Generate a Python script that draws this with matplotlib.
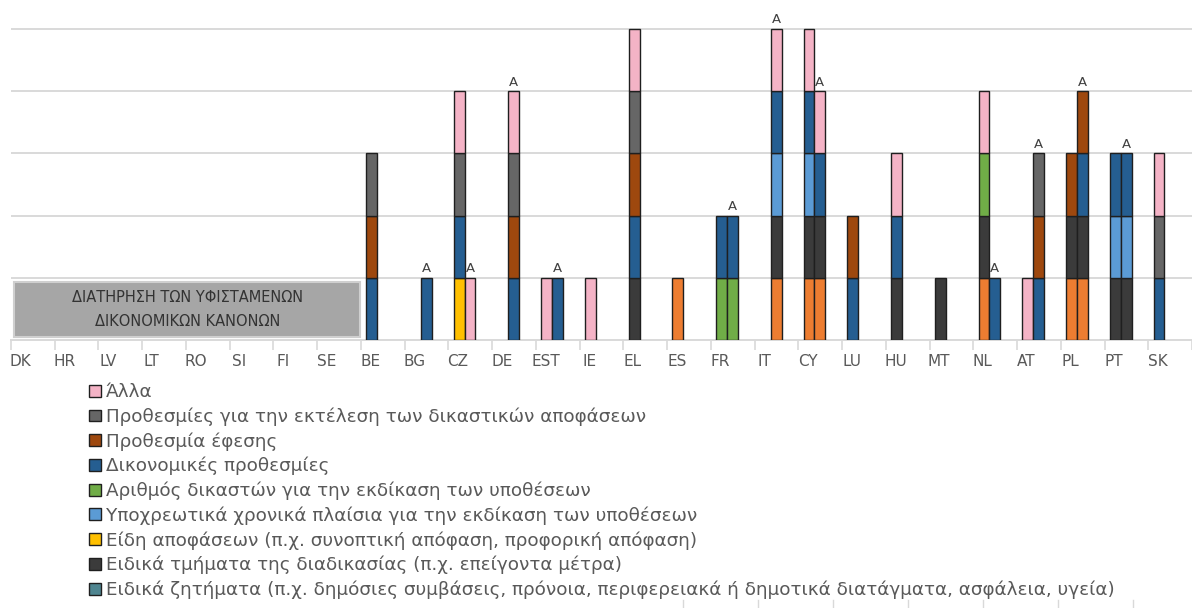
import numpy as np
import matplotlib
matplotlib.use("Agg")
import matplotlib.pyplot as plt
from matplotlib.patches import Patch, Rectangle
from matplotlib.lines import Line2D

plt.rcParams['font.family'] = ['DejaVu Sans']

# Länder (x-Achse)
countries = ["DK", "HR", "LV", "LT", "RO", "SI", "FI", "SE", "BE", "BG", "CZ", "DE", "EST",
             "IE", "EL", "ES", "FR", "IT", "CY", "LU", "HU", "MT", "NL", "AT", "PL", "PT", "SK"]

# Kategorien, von unten nach oben gestapelt
labels = [
    "Ειδικά ζητήματα (π.χ. δημόσιες συμβάσεις, πρόνοια, περιφερειακά ή δημοτικά διατάγματα, ασφάλεια, υγεία)",
    "Ειδικά τμήματα της διαδικασίας (π.χ. επείγοντα μέτρα)",
    "Είδη αποφάσεων (π.χ. συνοπτική απόφαση, προφορική απόφαση)",
    "Υποχρεωτικά χρονικά πλαίσια για την εκδίκαση των υποθέσεων",
    "Αριθμός δικαστών για την εκδίκαση των υποθέσεων",
    "Δικονομικές προθεσμίες",
    "Προθεσμία έφεσης",
    "Προθεσμίες για την εκτέλεση των δικαστικών αποφάσεων",
    "Άλλα",
]
bar_colors = ["#ED7D31", "#3B3B3B", "#FFC000", "#5B9BD5", "#70AD47",
              "#255E91", "#9E480E", "#666666", "#F4B3C6"]
legend_colors = ["#4F8590", "#3B3B3B", "#FFC000", "#5B9BD5", "#70AD47",
                 "#255E91", "#9E480E", "#666666", "#F4B3C6"]

# Erste Säule je Land        DK HR LV LT RO SI FI SE BE BG CZ DE ES IE EL ES FR IT CY LU HU MT NL AT PL PT SK
special_issues_1     = [0, 0, 0, 0, 0, 0, 0, 0, 0, 0, 0, 0, 0, 0, 0, 1, 0, 0, 1, 0, 0, 0, 1, 0, 1, 0, 0]
special_parts_1      = [0, 0, 0, 0, 0, 0, 0, 0, 0, 0, 0, 0, 0, 0, 1, 0, 0, 0, 1, 0, 1, 1, 1, 0, 1, 1, 0]
decision_types_1     = [0, 0, 0, 0, 0, 0, 0, 0, 0, 0, 1, 0, 0, 0, 0, 0, 0, 0, 0, 0, 0, 0, 0, 0, 0, 0, 0]
time_frames_1        = [0, 0, 0, 0, 0, 0, 0, 0, 0, 0, 0, 0, 0, 0, 0, 0, 0, 0, 1, 0, 0, 0, 0, 0, 0, 1, 0]
judges_1             = [0, 0, 0, 0, 0, 0, 0, 0, 0, 0, 0, 0, 0, 0, 0, 0, 1, 0, 0, 0, 0, 0, 1, 0, 0, 0, 0]
procedural_1         = [0, 0, 0, 0, 0, 0, 0, 0, 1, 0, 1, 0, 0, 0, 1, 0, 1, 0, 1, 1, 1, 0, 0, 0, 0, 1, 1]
appeal_1             = [0, 0, 0, 0, 0, 0, 0, 0, 1, 0, 0, 0, 0, 0, 1, 0, 0, 0, 0, 1, 0, 0, 0, 0, 1, 0, 0]
enforcement_1        = [0, 0, 0, 0, 0, 0, 0, 0, 1, 0, 1, 0, 0, 0, 1, 0, 0, 0, 0, 0, 0, 0, 0, 0, 0, 0, 1]
other_1              = [0, 0, 0, 0, 0, 0, 0, 0, 0, 0, 1, 0, 1, 1, 1, 0, 0, 0, 1, 0, 1, 0, 1, 1, 0, 0, 1]

# Zweite Säule je Land (mit "A" markiert)
special_issues_2     = [0, 0, 0, 0, 0, 0, 0, 0, 0, 0, 0, 0, 0, 0, 0, 0, 0, 1, 1, 0, 0, 0, 0, 0, 1, 0, 0]
special_parts_2      = [0, 0, 0, 0, 0, 0, 0, 0, 0, 0, 0, 0, 0, 0, 0, 0, 0, 1, 1, 0, 0, 0, 0, 0, 1, 1, 0]
decision_types_2     = [0, 0, 0, 0, 0, 0, 0, 0, 0, 0, 0, 0, 0, 0, 0, 0, 0, 0, 0, 0, 0, 0, 0, 0, 0, 0, 0]
time_frames_2        = [0, 0, 0, 0, 0, 0, 0, 0, 0, 0, 0, 0, 0, 0, 0, 0, 0, 1, 0, 0, 0, 0, 0, 0, 0, 1, 0]
judges_2             = [0, 0, 0, 0, 0, 0, 0, 0, 0, 0, 0, 0, 0, 0, 0, 0, 1, 0, 0, 0, 0, 0, 0, 0, 0, 0, 0]
procedural_2         = [0, 0, 0, 0, 0, 0, 0, 0, 0, 1, 0, 1, 1, 0, 0, 0, 1, 1, 1, 0, 0, 0, 1, 1, 1, 1, 0]
appeal_2             = [0, 0, 0, 0, 0, 0, 0, 0, 0, 0, 0, 1, 0, 0, 0, 0, 0, 0, 0, 0, 0, 0, 0, 1, 1, 0, 0]
enforcement_2        = [0, 0, 0, 0, 0, 0, 0, 0, 0, 0, 0, 1, 0, 0, 0, 0, 0, 0, 0, 0, 0, 0, 0, 1, 0, 0, 0]
other_2              = [0, 0, 0, 0, 0, 0, 0, 0, 0, 0, 1, 1, 0, 0, 0, 0, 0, 1, 1, 0, 0, 0, 0, 0, 0, 0, 0]

box_text = ["ΔΙΑΤΗΡΗΣΗ ΤΩΝ ΥΦΙΣΤΑΜΕΝΩΝ", "ΔΙΚΟΝΟΜΙΚΩΝ ΚΑΝΟΝΩΝ"]

first = [special_issues_1, special_parts_1, decision_types_1, time_frames_1, judges_1,
         procedural_1, appeal_1, enforcement_1, other_1]
second = [special_issues_2, special_parts_2, decision_types_2, time_frames_2, judges_2,
          procedural_2, appeal_2, enforcement_2, other_2]

text_col = "#595959"
grid_col = "#D9D9D9"

fig = plt.figure(figsize=(11.92, 6.08), dpi=100)
ax = fig.add_axes([11 / 1192, 268 / 608, 1 - 11 / 1192, 340 / 608])

x = np.arange(len(countries))
w = 0.249
left1 = x - 0.38
left2 = x - 0.131

for slot_left, slot in [(left1, first), (left2, second)]:
    bottom = np.zeros(len(countries))
    for vals, col in zip(slot, bar_colors):
        vals = np.array(vals, dtype=float)
        m = vals > 0
        # nur vorhandene Segmente zeichnen, sonst entstehen Striche auf der Grundlinie
        ax.bar(slot_left[m], vals[m], width=w, bottom=bottom[m], align="edge", color=col,
               edgecolor="#1F1F1F", linewidth=1.0, zorder=3)
        bottom += vals

# "A" über der zweiten Säule
tot2 = np.sum(np.array(second), axis=0)
for xi, t in zip(left2 + w / 2, tot2):
    if t > 0:
        ax.text(xi, t + 0.04, "A", ha="center", va="bottom", fontsize=9.5, color="#404040", zorder=4)

ax.set_xlim(-0.443, 26.306)
ax.set_ylim(0, 5.466)
ax.set_yticks([1, 2, 3, 4, 5])
ax.yaxis.grid(True, color=grid_col, linewidth=1.4, zorder=0)
ax.tick_params(axis="y", length=0, labelleft=False)

ax.set_xticks(x - 0.28)
ax.set_xticklabels(countries, fontsize=11, color=text_col)
ax.set_xticks(np.arange(len(countries) + 1) - 0.5, minor=True)
ax.tick_params(axis="x", which="major", length=0, pad=10)
ax.tick_params(axis="x", which="minor", length=7, color=grid_col, width=1.2)

for s in ["top", "right", "left"]:
    ax.spines[s].set_visible(False)
ax.spines["bottom"].set_color(grid_col)
ax.spines["bottom"].set_linewidth(1.4)

# Graues Feld für Länder ohne Änderungen
ax.add_patch(Rectangle((-0.427, 0.053), 7.917, 0.884, facecolor="#A6A6A6",
                       edgecolor="#CFCFCF", linewidth=1.5, zorder=2))
ax.text(3.53, 0.69, box_text[0], ha="center", va="center", fontsize=10.5, color="#333333", zorder=3)
ax.text(3.53, 0.29, box_text[1], ha="center", va="center", fontsize=10.5, color="#333333", zorder=3)

# Legende
handles = [Patch(facecolor=c, edgecolor="#1F1F1F", linewidth=1.0) for c in legend_colors]
fig.legend(handles[::-1], labels[::-1], loc="upper left", bbox_to_anchor=(80 / 1192, 1 - 374 / 608),
           frameon=False, fontsize=13.2, labelcolor=text_col, handlelength=0.62, handleheight=0.62,
           handletextpad=0.3, labelspacing=0.34, borderpad=0)

# kleine Markierungen am unteren Rand
for px in np.arange(683, 1134, 75):
    fig.add_artist(Line2D([px / 1192, px / 1192], [0, 8 / 608], color=grid_col, linewidth=1.0))

fig.savefig("out.png", dpi=100)
